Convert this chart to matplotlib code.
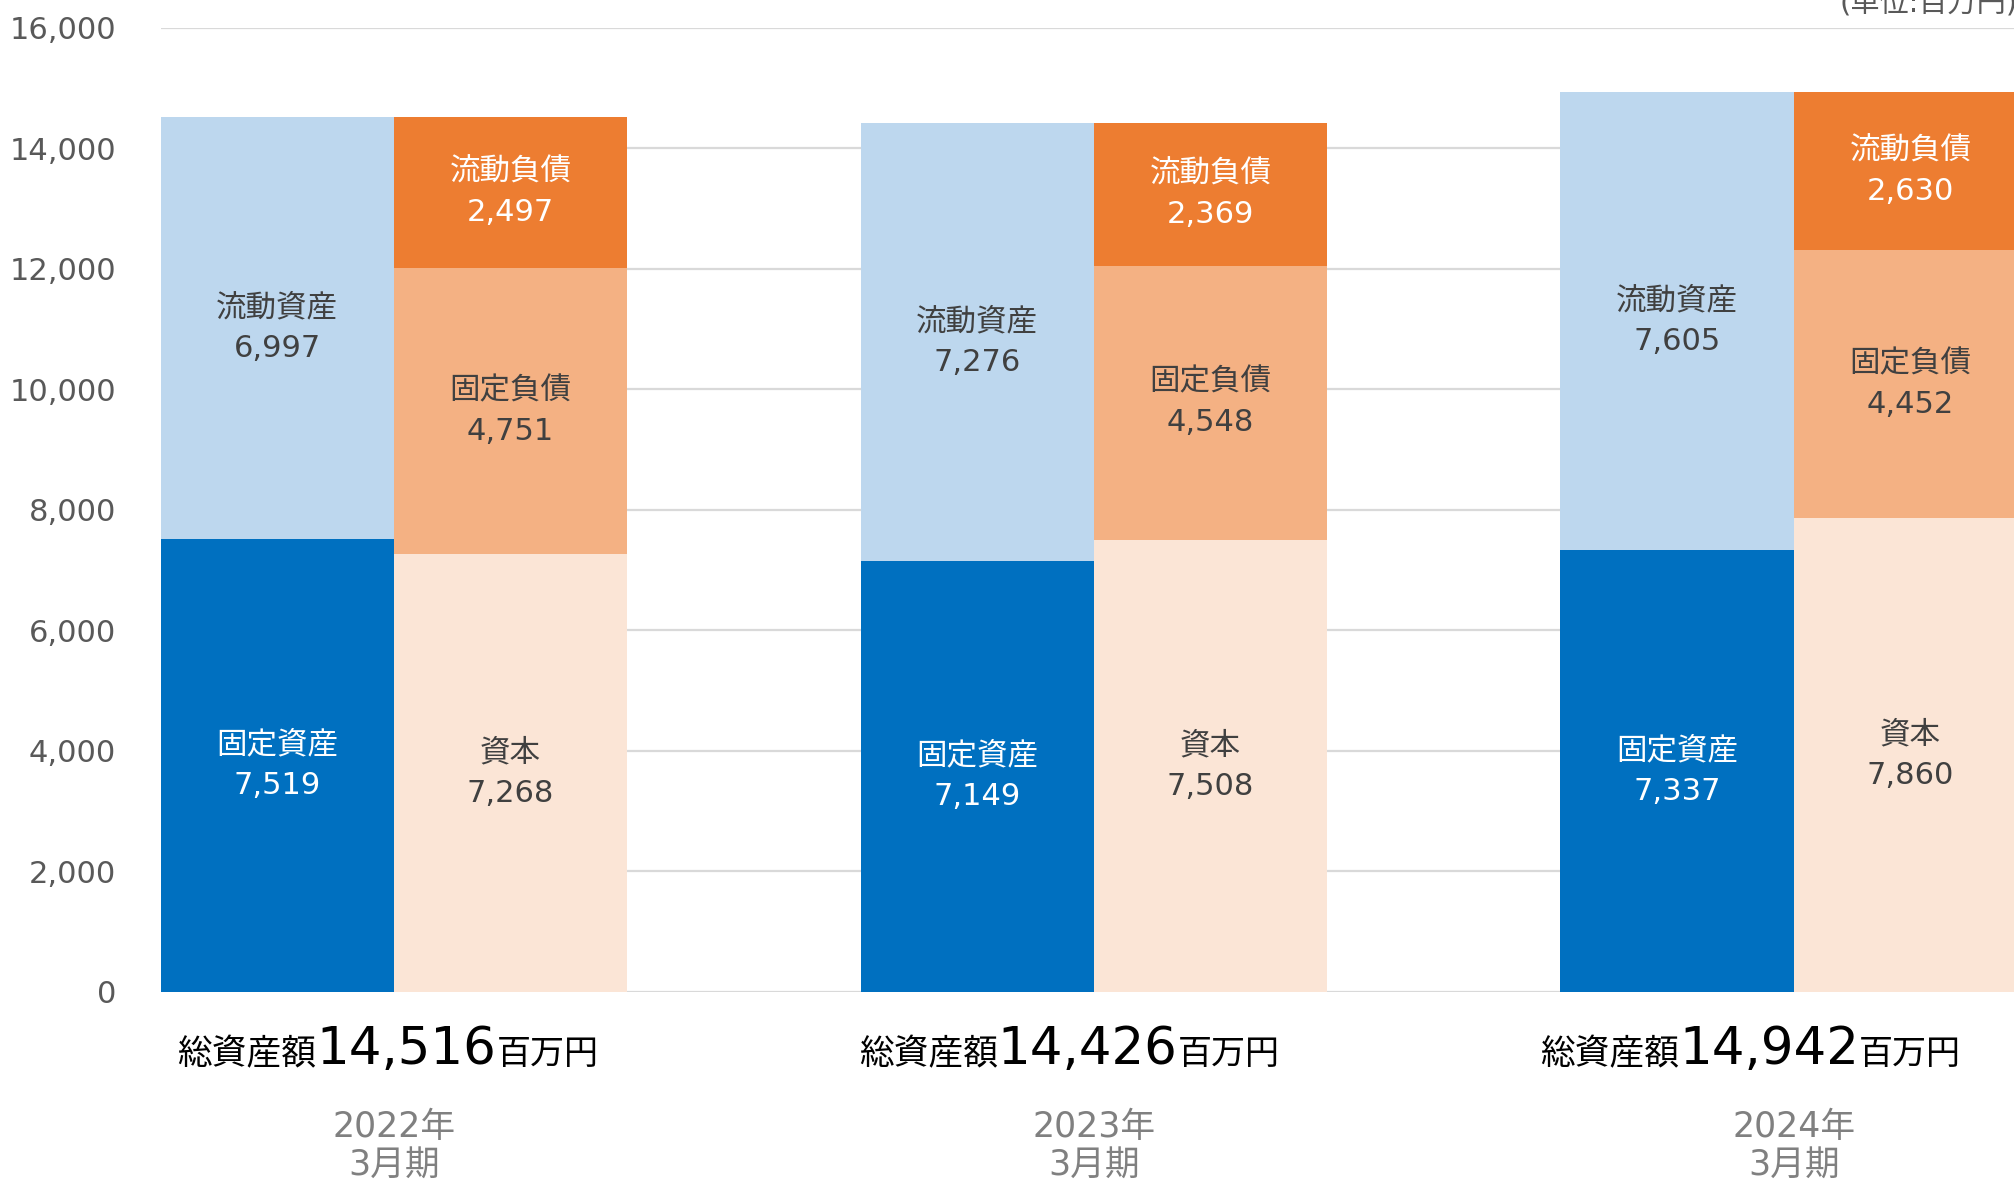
import matplotlib
matplotlib.use('Agg')
import matplotlib.pyplot as plt
import matplotlib.transforms as mtransforms
import numpy as np

plt.rcParams['font.family'] = ['DejaVu Sans', 'Noto Sans CJK JP']

#%% data
periods = ['2022年', '2023年', '2024年']
totals = [14516, 14426, 14942]

fixed_assets = [7519, 7149, 7337]      # 固定資産
current_assets = [6997, 7276, 7605]    # 流動資産
equity = [7268, 7508, 7860]            # 資本
fixed_liab = [4751, 4548, 4452]        # 固定負債
current_liab = [2497, 2369, 2630]      # 流動負債

yticks = [0, 2000, 4000, 6000, 8000, 10000, 12000, 14000, 16000]

# horizontal nudge of the total labels (not centred in the original)
total_shift = [0.018, -0.009, -0.035]

#%% plot
fig = plt.figure(figsize=(20.15, 11.84), dpi=100)
ax = fig.add_axes([0.0797, 0.1622, 0.9203, 0.8142])

x = np.arange(len(periods))
w = 1 / 3

dark = '#404040'

left_segments = [
    ('固定資産', fixed_assets, '#0070C0', 'white'),
    ('流動資産', current_assets, '#BDD7EE', dark),
]
right_segments = [
    ('資本', equity, '#FBE5D6', dark),
    ('固定負債', fixed_liab, '#F4B183', dark),
    ('流動負債', current_liab, '#ED7D31', 'white'),
]

for xs, segs in [(x - w / 2, left_segments), (x + w / 2, right_segments)]:
    bottom = np.zeros(len(x))
    for name, vals, col, tcol in segs:
        vals = np.array(vals)
        ax.bar(xs, vals, w, bottom=bottom, color=col, zorder=2)
        for xi, b, v in zip(xs, bottom, vals):
            ax.text(xi, b + v / 2, f'{name}\n{v:,}', ha='center', va='center',
                    fontsize=22, color=tcol, linespacing=1.5, zorder=3)
        bottom = bottom + vals

ax.set_xlim(-w, 2.316)
ax.set_ylim(0, 16000)
ax.set_yticks(yticks)
ax.set_yticklabels([f'{t:,}' for t in yticks])
ax.tick_params(axis='y', length=0, pad=32, labelsize=22, labelcolor='#595959')
ax.set_xticks([])
ax.grid(axis='y', color='#D9D9D9', linewidth=1.6, zorder=0)
ax.set_axisbelow(True)
for s in ax.spines.values():
    s.set_visible(False)

# total labels below bars
trans = mtransforms.blended_transform_factory(ax.transData, fig.transFigure)
for xi, tot, per, dx in zip(x, totals, periods, total_shift):
    num = ax.text(xi + dx, 0.1014, f'{tot:,}', transform=trans, ha='center',
                  va='baseline', fontsize=37, color='black')
    ax.annotate('総資産額', xy=(0, 0.1014), xycoords=(num, 'figure fraction'),
                ha='right', va='baseline', fontsize=25, color='black')
    ax.annotate('百万円', xy=(1, 0.1014), xycoords=(num, 'figure fraction'),
                ha='left', va='baseline', fontsize=24.5, color='black')
    ax.text(xi, 0.0485, per, transform=trans, ha='center', va='center',
            fontsize=25, color='#808080')
    ax.text(xi, 0.0158, '3月期', transform=trans, ha='center', va='center',
            fontsize=25, color='#808080')

fig.text(0.913, 0.9966, '(単位:百万円)', ha='left', va='center', fontsize=21,
         color='#595959')

fig.savefig('out.png', dpi=100)
